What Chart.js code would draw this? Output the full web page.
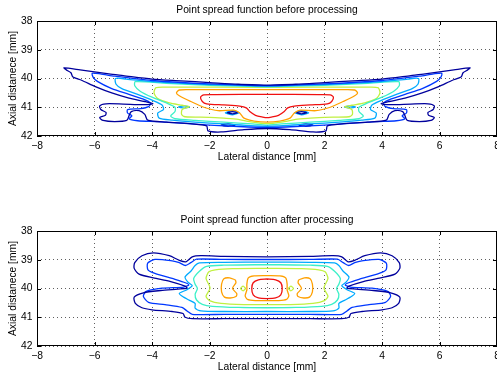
<!DOCTYPE html>
<html>
<head>
<meta charset="utf-8">
<script src="https://cdn.jsdelivr.net/npm/chart.js@4.4.0/dist/chart.umd.min.js"></script>
<style>
  html, body { margin: 0; padding: 0; background: #fff; overflow: hidden; width: 497px; height: 375px; }
  canvas { position: absolute; left: 0; }
  #beforeChart { top: 0; }
  #afterChart { top: 210px; }
</style>
</head>
<body>
<canvas id="beforeChart" width="520" height="170"></canvas>
<canvas id="afterChart" width="520" height="170"></canvas>
<script>
// axes
const xTicks = [-8, -6, -4, -2, 0, 2, 4, 6, 8];
const yTicks = [38, 39, 40, 41, 42];

// contour colours, outermost (lowest level) to innermost
const levelColors = ['#00009c', '#0038ff', '#00aaff', '#3cf0c8', '#c0f040', '#ffa000', '#f01010'];

// --- before processing: right halves, from top centre round to bottom centre [lateral, axial]
const beforeL1 = [[0,40.23],[1,40.2],[2,40.14],[3,40.08],[4,40.02],[5,39.9],[5.5,39.84],[6.5,39.7],[7.06,39.63],[6.95,39.72],[6.82,39.8],[6.75,39.95],[6.45,40.06],[5.97,40.28],[5.4,40.5],[4.8,40.68],[4.25,40.8],[3.97,40.88],[4.3,40.91],[5.0,40.89],[5.6,40.88],[5.82,40.95],[5.78,41.08],[5.6,41.18],[5.62,41.28],[5.82,41.36],[5.7,41.46],[5.3,41.5],[4.88,41.46],[4.8,41.3],[4.72,41.15],[4.45,41.12],[4.25,41.25],[4.15,41.45],[3.5,41.52],[2.6,41.58],[2.1,41.65],[2.05,41.82],[1.6,41.86],[0.8,41.78],[0,41.74]];
const beforeL2 = [[0,40.25],[2,40.19],[4,40.07],[5.3,39.92],[5.8,39.84],[6.08,39.82],[6.05,39.95],[5.9,40.1],[5.4,40.35],[4.8,40.55],[4.3,40.72],[4.05,40.86],[4.12,40.98],[4.4,41.05],[4.85,41.08],[4.85,41.2],[4.7,41.3],[4.8,41.4],[4.5,41.47],[3.8,41.5],[3,41.55],[2,41.62],[1,41.67],[0,41.7]];
const beforeL3 = [[0,40.27],[2,40.21],[4,40.11],[4.9,40.02],[5.27,40.0],[5.25,40.2],[5.05,40.35],[4.5,40.55],[4.0,40.75],[3.65,40.92],[3.6,41.08],[3.8,41.2],[3.75,41.38],[3.3,41.45],[2.5,41.52],[1.5,41.58],[0,41.66]];
const beforeL4 = [[0,40.29],[2,40.24],[3.5,40.17],[4.58,40.11],[4.6,40.25],[4.4,40.45],[4.0,40.65],[3.5,40.85],[3.2,41.0],[3.2,41.15],[3.35,41.3],[3.2,41.4],[2.5,41.46],[1.5,41.52],[0.5,41.58],[0,41.62]];
const beforeL5 = [[0,40.31],[3.5,40.3],[3.86,40.32],[3.93,40.5],[3.8,40.7],[3.4,40.85],[2.95,40.93],[2.7,40.98],[2.95,41.08],[2.97,41.25],[2.85,41.33],[2.0,41.35],[1.5,41.38],[1.0,41.42],[0.6,41.5],[0,41.57]];
const beforeL6 = [[0,40.39],[2.6,40.39],[3.05,40.4],[3.15,40.5],[3.05,40.6],[2.65,40.8],[2.2,41.0],[1.7,41.12],[1.15,41.1],[0.95,41.2],[0.8,41.38],[0.45,41.48],[0,41.52]];
const beforeL7 = [[0,40.55],[1.8,40.56],[2.2,40.57],[2.31,40.65],[2.25,40.8],[2.1,40.88],[1.5,40.92],[0.95,40.96],[0.72,41.02],[0.6,41.15],[0.4,41.28],[0.15,41.34],[0,41.36]];
// small closed islands on the right side (mirrored to the left), with their level
const beforeSpots = [
  { level: 0, pts: [[1.02,41.19],[1.2,41.15],[1.38,41.19],[1.2,41.23],[1.02,41.19]] },
  { level: 2, pts: [[0.95,41.19],[1.2,41.12],[1.45,41.19],[1.2,41.26],[0.95,41.19]] },
  { level: 2, pts: [[2.68,40.99],[2.88,40.95],[3.08,40.99],[2.88,41.03],[2.68,40.99]] },
  { level: 0, pts: [[1.1,41.62],[1.35,41.58],[1.6,41.62],[1.35,41.66],[1.1,41.62]] }
];

// --- after processing
const afterL1 = [[0,38.9],[1.5,38.88],[2.3,38.86],[2.6,38.9],[2.82,39.07],[3.05,39.02],[3.4,38.86],[3.95,38.76],[4.35,38.86],[4.6,39.1],[4.62,39.3],[4.45,39.5],[3.95,39.63],[3.35,39.76],[2.85,39.92],[2.78,39.99],[3.1,40.02],[3.7,40.07],[4.3,40.15],[4.62,40.3],[4.58,40.52],[4.35,40.67],[4.0,40.74],[3.3,40.8],[2.92,40.87],[2.85,41.0],[2.6,41.05],[1.5,41.05],[0,41.05]];
const afterL2 = [[0,38.99],[1.5,38.99],[2.45,38.98],[2.65,39.1],[2.84,39.2],[3.05,39.1],[3.3,39.04],[3.9,38.99],[4.15,39.12],[4.14,39.35],[3.9,39.47],[3.2,39.68],[2.84,39.8],[2.72,39.88],[2.9,39.95],[3.65,39.99],[4.2,40.1],[4.3,40.27],[4.12,40.48],[3.55,40.56],[2.96,40.66],[2.78,40.78],[2.6,40.9],[1.5,40.9],[0,40.9]];
const afterL3 = [[0,39.08],[1.5,39.09],[2.35,39.11],[2.5,39.2],[2.65,39.4],[2.85,39.6],[2.75,39.78],[2.6,39.9],[2.8,40.05],[3.05,40.17],[2.9,40.3],[2.72,40.4],[2.5,40.52],[2.5,40.68],[2.3,40.78],[1.5,40.8],[0,40.8]];
const afterL4 = [[0,39.17],[1.5,39.19],[2.1,39.23],[2.35,39.4],[2.55,39.65],[2.5,39.85],[2.42,40.0],[2.5,40.2],[2.45,40.4],[2.25,40.55],[1.9,40.62],[1,40.66],[0,40.67]];
const afterL5 = [[0,39.3],[1.2,39.31],[1.8,39.35],[2.02,39.42],[2.12,39.65],[1.98,39.98],[2.12,40.27],[2.0,40.42],[1.6,40.52],[0.8,40.56],[0,40.56]];
const afterL6 = [[0,39.55],[0.45,39.56],[0.65,39.63],[0.7,39.85],[0.7,40.05],[0.76,40.25],[0.68,40.38],[0.4,40.42],[0,40.42]];
const afterL7 = [[0,39.67],[0.3,39.7],[0.48,39.8],[0.53,40.0],[0.48,40.22],[0.3,40.33],[0,40.35]];
const afterSpots = [
  { level: 5, pts: [[1.1,39.7],[1.3,39.63],[1.5,39.66],[1.58,39.85],[1.58,40.12],[1.48,40.3],[1.28,40.33],[1.08,40.28],[1.05,40.18],[1.2,40.0],[1.08,39.8],[1.1,39.7]] },
  { level: 4, pts: [[0.74,40.0],[0.83,39.92],[0.92,40.0],[0.83,40.08],[0.74,40.0]] }
];

const FONT = 'Liberation Sans, Arial, Helvetica, sans-serif';

// right half -> full closed contour (mirror about x = 0)
function closeHalf(half) {
    const left = half.slice(0, -1).reverse().map(p => [-p[0], p[1]]);
    return half.concat(left).map(p => ({ x: p[0], y: p[1] }));
}

function buildDatasets(halves, spots) {
    const sets = [];
    halves.forEach((half, i) => {
        sets.push({ data: closeHalf(half), borderColor: levelColors[i] });
    });
    spots.forEach(s => {
        sets.push({ data: s.pts.map(p => ({ x: p[0], y: p[1] })), borderColor: levelColors[s.level] });
        sets.push({ data: s.pts.map(p => ({ x: -p[0], y: p[1] })), borderColor: levelColors[s.level] });
    });
    return sets.map(d => Object.assign(d, {
        showLine: true, fill: false, pointRadius: 0, borderWidth: 1.3, tension: 0.25
    }));
}

function fmt(v) {
    return v < 0 ? '\u2212' + (-v) : String(v);
}

// MATLAB style box with inward ticks
const boxPlugin = {
    id: 'box',
    afterDraw(chart) {
        const { ctx, chartArea: a, scales: { x, y } } = chart;
        ctx.save();
        ctx.strokeStyle = '#000';
        ctx.lineWidth = 1;
        ctx.strokeRect(a.left + 0.5, a.top + 0.5, a.width - 1, a.height - 1);
        ctx.beginPath();
        xTicks.forEach(v => {
            const px = Math.round(x.getPixelForValue(v)) + 0.5;
            ctx.moveTo(px, a.bottom); ctx.lineTo(px, a.bottom - 4);
            ctx.moveTo(px, a.top); ctx.lineTo(px, a.top + 4);
        });
        yTicks.forEach(v => {
            const py = Math.round(y.getPixelForValue(v)) + 0.5;
            ctx.moveTo(a.left, py); ctx.lineTo(a.left + 4, py);
            ctx.moveTo(a.right, py); ctx.lineTo(a.right - 4, py);
        });
        ctx.stroke();
        ctx.restore();
    }
};

function drawPlot(id, title, datasets) {
    const ctx = document.getElementById(id).getContext('2d');
    const grid = { color: 'rgba(40,40,40,0.75)', lineWidth: 1, drawTicks: false };
    const border = { display: false, dash: [1, 3] };
    new Chart(ctx, {
        type: 'scatter',
        data: { datasets: datasets },
        options: {
            responsive: false,
            animation: false,
            events: [],
            layout: { padding: { left: 0, right: 23, top: 0, bottom: 0 } },
            plugins: {
                legend: { display: false },
                tooltip: { enabled: false }
            },
            scales: {
                // top axis only carries the plot title, centred over the axes like MATLAB
                top: {
                    type: 'linear', position: 'top', min: -8, max: 8,
                    afterFit: s => { s.height = 21; },
                    ticks: { display: false },
                    grid: { display: false },
                    border: { display: false },
                    title: { display: true, text: title, color: '#000',
                             font: { family: FONT, size: 10.3 }, padding: { top: 3.8, bottom: 0 } }
                },
                x: {
                    type: 'linear', min: -8, max: 8,
                    afterBuildTicks: s => { s.ticks = xTicks.map(v => ({ value: v })); },
                    afterFit: s => { s.height = 34; },
                    ticks: { callback: fmt, color: '#000', padding: 4, maxRotation: 0, autoSkip: false,
                             font: { family: FONT, size: 10.3 } },
                    grid: grid, border: border,
                    title: { display: true, text: 'Lateral distance [mm]', color: '#000',
                             font: { family: FONT, size: 10.3 }, padding: { top: 0, bottom: 6.4 } }
                },
                y: {
                    type: 'linear', min: 38, max: 42, reverse: true,
                    afterBuildTicks: s => { s.ticks = yTicks.map(v => ({ value: v })); },
                    afterFit: s => { s.width = 37; },
                    ticks: { callback: fmt, color: '#000', padding: 4.5, font: { family: FONT, size: 10.3 } },
                    grid: grid, border: border,
                    title: { display: true, text: 'Axial distanece [mm]', color: '#000',
                             font: { family: FONT, size: 10.3 }, padding: { top: 7, bottom: 0 } }
                }
            }
        },
        plugins: [boxPlugin]
    });
}

drawPlot('beforeChart', 'Point spread function before processing',
    buildDatasets([beforeL1, beforeL2, beforeL3, beforeL4, beforeL5, beforeL6, beforeL7], beforeSpots));
drawPlot('afterChart', 'Point spread function after processing',
    buildDatasets([afterL1, afterL2, afterL3, afterL4, afterL5, afterL6, afterL7], afterSpots));
</script>
</body>
</html>
